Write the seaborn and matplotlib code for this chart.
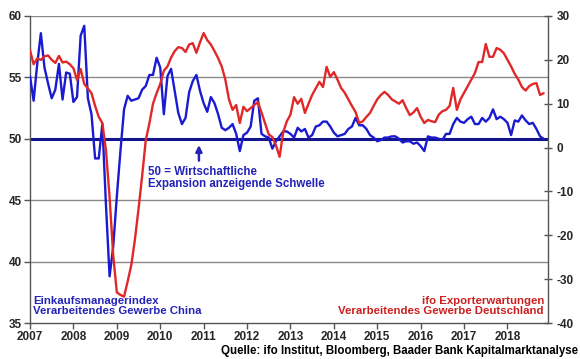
import numpy as np
import pandas as pd
import matplotlib
matplotlib.use("Agg")
import matplotlib.pyplot as plt
import seaborn as sns

# ---- data (monthly, Jan 2007 - Nov 2018) ----
years = list(range(2007, 2019))
china_pmi = [
    55.1, 53.1, 56.1, 58.6, 55.8, 54.5, 53.3, 54.0, 56.1, 53.2, 55.4, 55.3,
    53.0, 53.4, 58.4, 59.2, 53.3, 52.0, 48.4, 48.4, 51.2, 44.6, 38.8, 41.2,
    45.3, 49.0, 52.4, 53.5, 53.1, 53.2, 53.3, 54.0, 54.3, 55.2, 55.2, 56.6,
    55.8, 52.0, 55.1, 55.7, 53.9, 52.1, 51.2, 51.7, 53.8, 54.7, 55.2, 53.9,
    52.9, 52.2, 53.4, 52.9, 52.0, 50.9, 50.7, 50.9, 51.2, 50.4, 49.0, 50.3,
    50.5, 51.0, 53.1, 53.3, 50.4, 50.2, 50.1, 49.2, 49.8, 50.2, 50.6, 50.6,
    50.4, 50.1, 50.9, 50.6, 50.8, 50.1, 50.3, 51.0, 51.1, 51.4, 51.4, 51.0,
    50.5, 50.2, 50.3, 50.4, 50.8, 51.0, 51.7, 51.1, 51.1, 50.8, 50.3, 50.1,
    49.8, 49.9, 50.1, 50.1, 50.2, 50.2, 50.0, 49.7, 49.8, 49.8, 49.6, 49.7,
    49.4, 49.0, 50.2, 50.1, 50.1, 50.0, 49.9, 50.4, 50.4, 51.2, 51.7, 51.4,
    51.3, 51.6, 51.8, 51.2, 51.2, 51.7, 51.4, 51.7, 52.4, 51.6, 51.8, 51.6,
    51.3, 50.3, 51.5, 51.4, 51.9, 51.5, 51.2, 51.3, 50.8, 50.2, 50.0,
]
ifo_export = [
    22.2, 19.0, 20.3, 20.0, 20.8, 21.0, 20.0, 19.3, 20.9, 19.4, 19.6, 19.0,
    18.1, 15.4, 17.9, 14.5, 13.5, 12.4, 9.5, 7.0, 5.6, -0.6, -11.3, -24.5,
    -33.0, -33.6, -34.0, -30.5, -26.8, -21.0, -14.0, -6.5, 1.7, 5.5, 10.0, 12.4,
    14.5, 17.5, 18.5, 20.5, 22.0, 22.9, 22.7, 21.8, 23.5, 23.8, 21.6, 24.0,
    26.1, 24.5, 23.5, 22.0, 20.4, 18.5, 15.5, 11.0, 8.6, 9.7, 5.6, 9.3,
    8.3, 9.0, 9.7, 10.4, 8.0, 5.5, 3.0, 2.4, 0.5, -2.1, 3.5, 6.0,
    7.5, 11.5, 10.0, 11.1, 7.9, 10.0, 12.0, 13.5, 15.0, 13.8, 18.4, 16.1,
    17.2, 15.5, 13.6, 12.5, 11.0, 9.5, 8.1, 5.6, 6.0, 7.0, 7.9, 9.5,
    11.0, 12.0, 12.7, 12.0, 11.0, 10.5, 10.0, 10.8, 9.0, 7.4, 8.0, 9.0,
    7.0, 5.6, 6.3, 6.0, 5.8, 7.5, 8.3, 8.6, 9.5, 13.6, 8.6, 11.0,
    12.5, 14.0, 15.5, 17.0, 19.5, 19.5, 23.6, 20.7, 20.7, 22.7, 22.3, 21.5,
    20.0, 18.5, 16.8, 15.5, 13.8, 13.0, 14.0, 14.5, 14.7, 12.0, 12.4,
]
left_ticks = [35, 40, 45, 50, 55, 60]
right_ticks = [-40, -30, -20, -10, 0, 10, 20, 30]

df = pd.DataFrame({
    "monat": np.arange(len(china_pmi)),
    "pmi": china_pmi,
    "ifo": ifo_export,
})

sns.set_theme(style="white")
plt.rcParams["font.family"] = ["Liberation Sans", "DejaVu Sans"]
plt.rcParams["font.weight"] = "bold"

W, H = 580, 359
fig = plt.figure(figsize=(W / 100, H / 100), dpi=100)
L, R, T, B = 30, 548, 16, 323
ax = fig.add_axes([L / W, 1 - B / H, (R - L) / W, (B - T) / H])
ax2 = ax.twinx()

BLUE = "#1a1ad0"
RED = "#e02828"
NAVY = "#14148c"
TXT_BLUE = "#2323b8"
TXT_RED = "#cc1f1f"

for g in [40, 45, 55, 60]:
    ax.axhline(g, color="#8a8a8a", lw=1.0, zorder=1)
ax.axhline(50, color=NAVY, lw=2.2, zorder=2)

sns.lineplot(data=df, x="monat", y="pmi", ax=ax, color=BLUE, linewidth=1.7, zorder=3)
sns.lineplot(data=df, x="monat", y="ifo", ax=ax2, color=RED, linewidth=1.7, zorder=3)

ax.set_xlim(0, 143.2)
ax.set_ylim(35, 60)
ax2.set_ylim(-40, 30)
ax.set_xlabel("")
ax.set_ylabel("")
ax2.set_ylabel("")
ax.set_xticks([12 * i for i in range(len(years))])
ax.set_xticklabels([str(y) for y in years])
ax.set_yticks(left_ticks)
ax.set_yticklabels([str(v) for v in left_ticks])
ax2.set_yticks(right_ticks)
ax2.set_yticklabels([str(v) for v in right_ticks])

for a in (ax, ax2):
    for s in a.spines.values():
        s.set_visible(False)
ax.spines["left"].set_visible(True)
ax.spines["bottom"].set_visible(True)
ax2.spines["right"].set_visible(True)
for s in (ax.spines["left"], ax.spines["bottom"], ax2.spines["right"]):
    s.set_color("#555555")
    s.set_linewidth(1.0)

ax.tick_params(axis="x", direction="out", length=4, width=1, color="#555555",
               labelsize=8.5, pad=2, bottom=True)
ax.tick_params(axis="y", direction="out", length=4, width=1, color="#555555",
               labelsize=8.5, pad=2, left=True)
ax2.tick_params(axis="y", direction="inout", length=6, width=1, color="#555555",
                labelsize=8.5, pad=3, right=True)
ax.grid(False)
ax2.grid(False)

# annotation arrow and text
ax.annotate("", xy=(46.7, 49.72), xytext=(46.7, 48.0),
            arrowprops=dict(arrowstyle="-|>", color=TXT_BLUE, lw=1.8,
                            mutation_scale=9), zorder=5)


def fpos(x, y):
    return x / W, 1 - y / H


fig.text(*fpos(148, 166), "50 = Wirtschaftliche\nExpansion anzeigende Schwelle",
         color=TXT_BLUE, fontsize=8.3, fontweight="bold", va="top", ha="left",
         linespacing=1.05)
fig.text(*fpos(33, 296), "Einkaufsmanagerindex\nVerarbeitendes Gewerbe China",
         color=TXT_BLUE, fontsize=8.2, fontweight="bold", va="top", ha="left",
         linespacing=1.05)
fig.text(*fpos(544, 296), "ifo Exporterwartungen\nVerarbeitendes Gewerbe Deutschland",
         color=TXT_RED, fontsize=8.2, fontweight="bold", va="top", ha="right",
         multialignment="right", linespacing=1.05)
fig.text(*fpos(578, 345), "Quelle: ifo Institut, Bloomberg, Baader Bank Kapitalmarktanalyse",
         color="black", fontsize=8.3, fontweight="bold", va="top", ha="right")

fig.savefig("out.png", dpi=100)
